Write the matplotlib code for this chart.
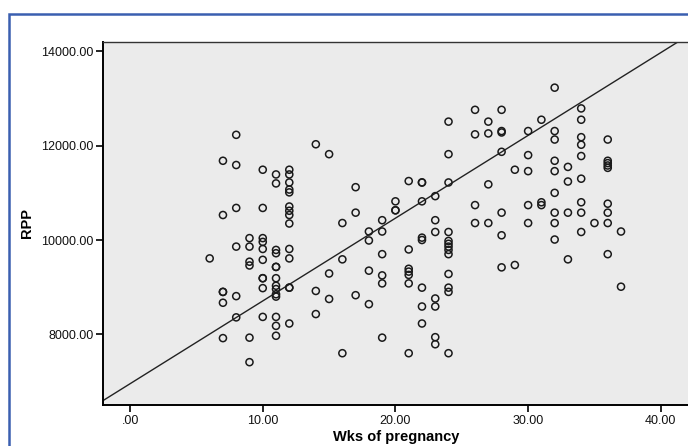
import matplotlib
matplotlib.use("Agg")
import matplotlib.pyplot as plt
from matplotlib.patches import Rectangle

# ---- data ----
week_groups = [6, 7, 8, 9, 10, 11, 12, 14, 15, 16, 17, 18, 19, 20, 21, 22, 23, 24,
               26, 27, 28, 29, 30, 31, 32, 33, 34, 35, 36, 37]
rpp_groups = [
    [9610],
    [11680, 10530, 8900, 8900, 8670, 7920],
    [12230, 11590, 10680, 9860, 8810, 8360],
    [10040, 9860, 9540, 9460, 7930, 7410],
    [11490, 10680, 10040, 9960, 9810, 9580, 9190, 9190, 8980, 8370],
    [11390, 11200, 9790, 9720, 9430, 9430, 9190, 9030, 8960, 8850, 8800, 8370, 8180, 7970],
    [11490, 11390, 11220, 11070, 11010, 10710, 10620, 10530, 10350, 9810, 9610, 8990, 8990, 8230],
    [12030, 8920, 8430],
    [11820, 9290, 8750],
    [10360, 9590, 7600],
    [11120, 10580, 8830],
    [10180, 9990, 9350, 8640],
    [10420, 10180, 9700, 9250, 9080, 7930],
    [10820, 10630, 10630],
    [11250, 9800, 9390, 9330, 9260, 9080, 7600],
    [11220, 11220, 10820, 10050, 10000, 8990, 8590, 8230],
    [10930, 10420, 10170, 8760, 8590, 7940, 7790],
    [12510, 11820, 11220, 10170, 9980, 9920, 9860, 9790, 9700, 9280, 8990, 8900, 7600],
    [12760, 12240, 10740, 10360],
    [12510, 12260, 11180, 10360],
    [12760, 12310, 12280, 11870, 10580, 10100, 9420],
    [11490, 9470],
    [12310, 11800, 11460, 10740, 10360],
    [12550, 10800, 10740],
    [13230, 12310, 12130, 11680, 11460, 11000, 10580, 10360, 10010],
    [11550, 11240, 10580, 9590],
    [12790, 12550, 12180, 12020, 11780, 11300, 10800, 10580, 10170],
    [10360],
    [12130, 11680, 11630, 11580, 11530, 10770, 10580, 10360, 9700],
    [10180, 9010],
]
weeks = [w for w, g in zip(week_groups, rpp_groups) for _ in g]
rpp = [v for g in rpp_groups for v in g]

line_intercept = 6953
line_slope = 175.5

x_ticks = [0, 10, 20, 30, 40]
x_tick_labels = [".00", "10.00", "20.00", "30.00", "40.00"]
y_ticks = [8000, 10000, 12000, 14000]
y_tick_labels = ["8000.00", "10000.00", "12000.00", "14000.00"]
x_label = "Wks of pregnancy"
y_label = "RPP"

# ---- figure ----
plt.rcParams['font.family'] = ['Liberation Sans', 'DejaVu Sans']
W, H = 688, 446
fig = plt.figure(figsize=(W / 100, H / 100), dpi=100)
fig.patch.set_facecolor("white")

# outer blue frame (continues beyond the crop on right/bottom)
fig.patches.append(Rectangle((8.5 / W, -0.05), 1.2, 1 - 13.5 / H + 0.05,
                             transform=fig.transFigure, fill=False,
                             edgecolor="#3a5fb0", linewidth=1.8, zorder=0))

ax = fig.add_axes([103 / W, 1 - 405 / H, (690 - 103) / W, (405 - 42) / H])
ax.set_facecolor("#ebebeb")

ax.scatter(weeks, rpp, s=26, facecolors="none", edgecolors="#1a1a1a",
           linewidths=1.1, zorder=3)
ax.axline((0, line_intercept), slope=line_slope, color="#222222",
          linewidth=1.0, zorder=2)

ax.set_xlim(-2.04, 42.2)
ax.set_ylim(6502, 14198)

ax.set_xticks(x_ticks)
ax.set_xticklabels(x_tick_labels)
ax.set_yticks(y_ticks)
ax.set_yticklabels(y_tick_labels)
ax.tick_params(axis="both", direction="out", length=5, width=1.2,
               color="black", labelsize=9, pad=2, labelcolor="#111111")

for side in ["left", "bottom"]:
    ax.spines[side].set_linewidth(1.4)
    ax.spines[side].set_color("black")
for side in ["top", "right"]:
    ax.spines[side].set_linewidth(1.0)
    ax.spines[side].set_color("#333333")

ax.set_xlabel(x_label, fontsize=10.5, fontweight="bold", labelpad=2)
ax.set_ylabel(y_label, fontsize=10.5, fontweight="bold", labelpad=5)

fig.savefig("out.png", dpi=100)
